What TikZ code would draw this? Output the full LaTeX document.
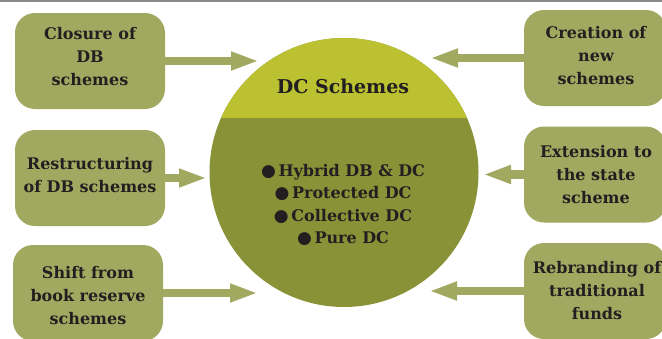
\documentclass[tikz,border=0pt]{standalone}
\usepackage{fontspec}
\setmainfont{DejaVu Serif}
\newfontfamily\symfont{DejaVu Sans}
\usetikzlibrary{arrows.meta}
\definecolor{boxfill}{RGB}{161,168,96}
\definecolor{captop}{RGB}{187,193,48}
\definecolor{capbody}{RGB}{138,146,56}
\definecolor{ink}{RGB}{35,31,32}
\definecolor{rule}{RGB}{138,138,138}
\newcommand{\bul}{{\symfont\fontsize{17}{17}\selectfont ●}\,}
\tikzset{
  srcbox/.style={fill=boxfill, rounded corners=20pt, minimum width=150pt,
    minimum height=96pt, inner sep=0pt},
  srctext/.style={text=ink, align=center, inner sep=0pt,
    font=\bfseries\fontsize{16}{23}\selectfont},
  feed/.style={boxfill, line width=8.5pt,
    -{Triangle[length=28pt,width=17pt]}},
}
\begin{document}
\begin{tikzpicture}[x=1pt,y=-1pt]
\useasboundingbox (0,0) rectangle (662,338);
\fill[white] (0,0) rectangle (662,338);
\draw[rule, line width=2pt] (0,1) -- (662,1);

% central circle, split into a light cap and a darker body
\fill[capbody] (344,172.5) circle[radius=134.5];
\begin{scope}
  \clip (200,0) rectangle (490,117);
  \fill[captop] (344,172.5) circle[radius=134.5];
\end{scope}
\node[text=ink, font=\bfseries\fontsize{19}{23}\selectfont] (title) at (343,86) {DC Schemes};
\node[text=ink, align=center, font=\bfseries\fontsize{16}{22.5}\selectfont] (kinds) at (343,205)
  {\bul Hybrid DB \& DC\\ \bul Protected DC\\ \bul Collective DC\\ \bul Pure DC};

% source boxes
\node[srcbox] (l1) at (90,61) {};
\node[srcbox] (l2) at (90,178) {};
\node[srcbox] (l3) at (88,293) {};
\node[srcbox, minimum width=142pt] (r1) at (595,58) {};
\node[srcbox, minimum width=142pt] (r2) at (595,174.5) {};
\node[srcbox, minimum width=142pt] (r3) at (595,291) {};

% box captions, set slightly above the box centres
\node[srctext] (l1t) at (90,57) {Closure of\\DB\\schemes};
\node[srctext] (l2t) at (90,175) {Restructuring\\of DB schemes};
\node[srctext] (l3t) at (88,296) {Shift from\\book reserve\\schemes};
\node[srctext] (r1t) at (596,55.5) {Creation of\\new\\schemes};
\node[srctext] (r2t) at (596,174.5) {Extension to\\the state\\scheme};
\node[srctext] (r3t) at (597,290.5) {Rebranding of\\traditional\\funds};

% arrow tips on the circle side
\coordinate (tl1) at (259,60);
\coordinate (tl2) at (207,176);
\coordinate (tl3) at (258,294);
\coordinate (tr1) at (430,59);
\coordinate (tr2) at (483,176);
\coordinate (tr3) at (429,292);

\draw[feed] (l1.east) -- (tl1 |- l1.east);
\draw[feed] (l2.east) -- (tl2 |- l2.east);
\draw[feed] (l3.east) -- (tl3 |- l3.east);
\draw[feed] (r1.west) -- (tr1 |- r1.west);
\draw[feed] (r2.west) -- (tr2 |- r2.west);
\draw[feed] (r3.west) -- (tr3 |- r3.west);
\end{tikzpicture}
\end{document}
